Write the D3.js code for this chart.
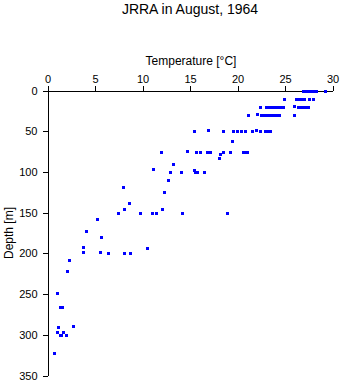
<!DOCTYPE html>
<html><head><meta charset="utf-8">
<script src="https://cdn.jsdelivr.net/npm/d3@7"></script>
<style>
body{margin:0;background:#fff;}
text{font-family:"Liberation Sans",Arial,Helvetica,sans-serif;fill:#000;}
</style></head>
<body><svg id="c" width="341" height="384"></svg>
<script>
const title = "JRRA in August, 1964";
const xLabel = "Temperature [\u00B0C]";
const yLabel = "Depth [m]";
const xTicks = [0,5,10,15,20,25,30];
const yTicks = [0,50,100,150,200,250,300,350];
const temperature = [
 26.9,27.1,27.3,27.5,27.7,27.9,28.1,28.3,29.2,
 24.9,26.2,26.4,26.6,26.8,27.0,27.5,27.9,
 22.4,23.0,23.2,23.4,23.6,23.8,24.0,24.2,24.5,24.8,26.4,26.6,26.8,27.0,27.2,27.4,25.9,
 21.1,22.0,22.5,22.7,22.9,23.1,23.3,23.5,23.8,24.1,24.4,25.9,
 15.4,16.9,18.5,19.5,19.9,20.4,20.8,21.5,21.9,22.4,22.9,23.1,23.4,
 19.4,
 11.9,14.7,15.6,16.0,16.8,17.1,18.5,19.2,20.6,20.8,21.0,
 18.2,18.0,
 13.2,11.1,15.4,12.9,14.1,15.5,15.7,16.5,
 12.7,12.3,7.9,8.6,12.1,8.0,
 7.4,9.7,11.0,11.4,14.2,18.9,
 5.2,4.1,5.6,3.7,10.5,3.7,5.5,6.4,8.0,8.7,
 2.25,2.0,1.0,1.35,1.55,2.7,1.1,0.95,1.6,1.3,1.45,1.9,0.7
];
const depth = [
 0,0,0,0,0,0,0,0,0,
 10,10,10,10,10,10,10,10,
 20,20,20,20,20,20,20,20,20,20,20,20,20,20,20,20,19,
 30,29,30,30,30,30,30,30,30,30,30,30,
 50,49,50,50,50,50,50,50,49,50,50,50,50,
 62,
 75,74,75,75,75,75,75,75,75,75,75,
 78,83,
 90,96,98,100,100,100,100,100,
 110,125,119,138,145,145,
 150,150,150,150,150,150,
 158,172,180,192,193,198,198,200,200,200,
 208,222,249,266,266,289,290,297,297,300,300,300,322
];

const svg = d3.select("#c");
const x = d3.scaleLinear().domain([0,30]).range([47.5,332.5]);
const y = d3.scaleLinear().domain([0,350]).range([90.5,375.5]);

svg.append("text").attr("x",190).attr("y",14).attr("text-anchor","middle")
  .style("font-size","14px").text(title);
svg.append("text").attr("x",191).attr("y",65).attr("text-anchor","middle")
  .style("font-size","12px").text(xLabel);
svg.append("text").attr("transform","translate(13,233) rotate(-90)").attr("text-anchor","middle")
  .style("font-size","12px").text(yLabel);

const gx = svg.append("g").attr("transform","translate(0,90.5)")
  .call(d3.axisTop(x).tickValues(xTicks).tickSize(5).tickSizeOuter(0).tickPadding(3));
const gy = svg.append("g").attr("transform","translate(47.5,0)")
  .call(d3.axisLeft(y).tickValues(yTicks).tickSize(5).tickSizeOuter(0).tickPadding(5));
[gx,gy].forEach(g=>{
  g.selectAll("path,line").attr("stroke","#000").attr("shape-rendering","crispEdges");
  g.selectAll("text").style("font-size","11px").attr("font-family",null);
});

svg.append("g").selectAll("rect").data(temperature).join("rect")
  .attr("x",(d)=>Math.round(x(d))-1.5)
  .attr("y",(d,i)=>Math.round(y(depth[i]))-1.5)
  .attr("width",3).attr("height",3)
  .attr("fill","#0000ff").attr("shape-rendering","crispEdges");
</script></body></html>
